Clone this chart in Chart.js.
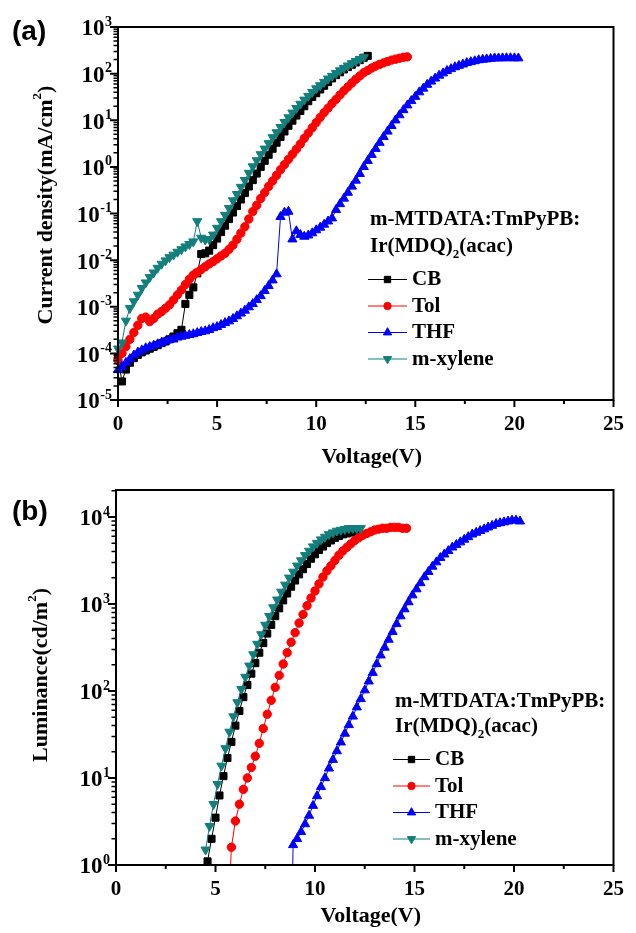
<!DOCTYPE html>
<html lang="en">
<head>
<meta charset="UTF-8">
<title>J-V and L-V of m-MTDATA:TmPyPB:Ir(MDQ)2(acac) devices</title>
<script src="https://cdn.jsdelivr.net/npm/chart.js@4.4.1/dist/chart.umd.min.js"></script>
<style>
  html, body { margin: 0; padding: 0; background: #fff; }
  body { width: 636px; height: 933px; position: relative; overflow: hidden; }
  canvas { position: absolute; left: 0; }
  #chartA { top: 0; }
  #chartB { top: 472px; }
</style>
</head>
<body>
<canvas id="chartA" width="636" height="472"></canvas>
<canvas id="chartB" width="636" height="461"></canvas>
<script>
// ---- panel (a): current density (mA/cm2) vs voltage, 0.2 V steps ----
const voltA = [
  0, 0.2, 0.4, 0.6, 0.8, 1, 1.2, 1.4, 1.6, 1.8,
  2, 2.2, 2.4, 2.6, 2.8, 3, 3.2, 3.4, 3.6, 3.8,
  4, 4.2, 4.4, 4.6, 4.8, 5, 5.2, 5.4, 5.6, 5.8,
  6, 6.2, 6.4, 6.6, 6.8, 7, 7.2, 7.4, 7.6, 7.8,
  8, 8.2, 8.4, 8.6, 8.8, 9, 9.2, 9.4, 9.6, 9.8,
  10, 10.2, 10.4, 10.6, 10.8, 11, 11.2, 11.4, 11.6, 11.8,
  12, 12.2, 12.4, 12.6, 12.8, 13, 13.2, 13.4, 13.6, 13.8,
  14, 14.2, 14.4, 14.6, 14.8, 15, 15.2, 15.4, 15.6, 15.8,
  16, 16.2, 16.4, 16.6, 16.8, 17, 17.2, 17.4, 17.6, 17.8,
  18, 18.2, 18.4, 18.6, 18.8, 19, 19.2, 19.4, 19.6, 19.8,
  20, 20.2
];
const jCb = [
  7.9e-5, 2.5e-5, 4.5e-5, 6.3e-5, 7.9e-5, 9.3e-5, 1.05e-4, 1.15e-4, 1.26e-4, 1.38e-4,
  1.5e-4, 1.66e-4, 1.8e-4, 2.0e-4, 2.3e-4, 2.7e-4, 3.2e-4, 1.15e-3, 1.8e-3, 2.6e-3,
  5.2e-3, 1.35e-2, 1.4e-2, 1.6e-2, 2.1e-2, 2.9e-2, 4.0e-2, 5.5e-2, 7.6e-2, 0.105,
  0.145, 0.2, 0.275, 0.38, 0.52, 0.72, 1.0, 1.35, 1.82, 2.45,
  3.3, 4.4, 5.75, 7.6, 9.8, 12.6, 15.8, 20, 25.7, 31.6,
  38, 45.7, 55, 66, 79, 93, 107, 123, 138, 155,
  174, 195, 219, 240
];
const jTol = [
  7.1e-5, 1.0e-4, 1.4e-4, 2.0e-4, 2.8e-4, 4.0e-4, 5.6e-4, 6.0e-4, 4.8e-4, 5.6e-4,
  6.9e-4, 7.9e-4, 9.3e-4, 1.1e-3, 1.4e-3, 1.8e-3, 2.3e-3, 3.0e-3, 3.9e-3, 4.8e-3,
  5.5e-3, 6.3e-3, 7.2e-3, 8.3e-3, 9.3e-3, 1.07e-2, 1.23e-2, 1.4e-2, 1.7e-2, 2.1e-2,
  2.8e-2, 3.8e-2, 5.2e-2, 7.6e-2, 0.11, 0.15, 0.21, 0.28, 0.38, 0.5,
  0.66, 0.87, 1.12, 1.45, 1.86, 2.4, 3.1, 4.1, 5.3, 6.9,
  8.9, 11.5, 14.6, 18.2, 22.8, 28, 35, 43, 52, 63,
  76, 89, 105, 117, 132, 145, 158, 170, 182, 195,
  204, 214, 224, 229
];
const jThf = [
  4.4e-5, 5.2e-5, 6.3e-5, 7.6e-5, 9.1e-5, 1.05e-4, 1.17e-4, 1.3e-4, 1.38e-4, 1.48e-4,
  1.58e-4, 1.7e-4, 1.82e-4, 1.95e-4, 2.0e-4, 2.2e-4, 2.3e-4, 2.4e-4, 2.5e-4, 2.6e-4,
  2.75e-4, 2.9e-4, 3.0e-4, 3.2e-4, 3.5e-4, 3.7e-4, 4.1e-4, 4.5e-4, 4.9e-4, 5.5e-4,
  6.3e-4, 7.2e-4, 8.3e-4, 9.8e-4, 1.15e-3, 1.4e-3, 1.7e-3, 2.2e-3, 2.8e-3, 3.7e-3,
  5.0e-3, 8.5e-2, 0.105, 0.11, 2.8e-2, 4.2e-2, 3.5e-2, 3.2e-2, 3.4e-2, 3.8e-2,
  4.4e-2, 5.0e-2, 5.8e-2, 6.8e-2, 7.9e-2, 0.12, 0.16, 0.21, 0.28, 0.38,
  0.51, 0.71, 1.0, 1.35, 1.82, 2.45, 3.3, 4.4, 5.75, 7.6,
  10, 12.9, 16.6, 21, 26, 32, 40, 48, 58, 68,
  79, 91, 102, 115, 126, 138, 148, 158, 170, 178,
  186, 195, 200, 204, 209, 214, 214, 215, 216, 216,
  215, 214
];
const jXyl = [
  1.26e-4, 1.7e-4, 5.0e-4, 9.3e-4, 1.3e-3, 1.8e-3, 2.5e-3, 3.3e-3, 4.3e-3, 5.4e-3,
  6.8e-3, 8.3e-3, 9.8e-3, 1.15e-2, 1.3e-2, 1.5e-2, 1.7e-2, 1.95e-2, 2.2e-2, 2.5e-2,
  6.8e-2, 3.0e-2, 2.75e-2, 2.8e-2, 3.5e-2, 4.9e-2, 6.8e-2, 9.3e-2, 0.13, 0.19,
  0.26, 0.37, 0.52, 0.74, 1.02, 1.38, 1.86, 2.45, 3.2, 4.3,
  5.5, 7.1, 9.1, 11.5, 14.5, 18.2, 22.4, 27.5, 33, 40,
  48, 56, 66, 78, 89, 102, 117, 132, 148, 166,
  186, 204, 224
];

// ---- panel (b): luminance (cd/m2) vs voltage ----
const voltCbB = [
  4.6, 4.8, 5, 5.2, 5.4, 5.6, 5.8, 6, 6.2, 6.4,
  6.6, 6.8, 7, 7.2, 7.4, 7.6, 7.8, 8, 8.2, 8.4,
  8.6, 8.8, 9, 9.2, 9.4, 9.6, 9.8, 10, 10.2, 10.4,
  10.6, 10.8, 11, 11.2, 11.4, 11.6, 11.8, 12, 12.2
];
const lumCb = [
  1.1, 2.0, 3.5, 6.3, 10.5, 17, 26, 40, 59, 85,
  117, 158, 209, 275, 355, 457, 575, 724, 891, 1100,
  1320, 1580, 1860, 2190, 2510, 2880, 3310, 3720, 4170, 4570,
  5010, 5370, 5750, 6030, 6310, 6460, 6610, 6760, 6760
];
const voltTolB = [
  5.7, 5.8, 6, 6.2, 6.4, 6.6, 6.8, 7, 7.2, 7.4, 7.6, 7.8,
  8, 8.2, 8.4, 8.6, 8.8, 9, 9.2, 9.4, 9.6, 9.8,
  10, 10.2, 10.4, 10.6, 10.8, 11, 11.2, 11.4, 11.6, 11.8,
  12, 12.2, 12.4, 12.6, 12.8, 13, 13.2, 13.4, 13.6, 13.8,
  14, 14.2, 14.4, 14.6
];
const lumTol = [
  0.5, 1.6, 3.2, 5.0, 7.4, 10, 13.2, 17.8, 25, 37, 54, 78,
  110, 151, 204, 275, 363, 468, 603, 759, 955, 1170,
  1410, 1700, 2040, 2400, 2750, 3160, 3630, 4070, 4470, 4900,
  5370, 5750, 6170, 6460, 6760, 7080, 7240, 7410, 7410, 7590,
  7590, 7590, 7410, 7410
];
const voltThfB = [
  8.85, 8.9, 9.1, 9.3, 9.5, 9.7, 9.9, 10.1, 10.3, 10.5, 10.7,
  10.9, 11.1, 11.3, 11.5, 11.7, 11.9, 12.1, 12.3, 12.5, 12.7,
  12.9, 13.1, 13.3, 13.5, 13.7, 13.9, 14.1, 14.3, 14.5, 14.7,
  14.9, 15.1, 15.3, 15.5, 15.7, 15.9, 16.1, 16.3, 16.5, 16.7,
  16.9, 17.1, 17.3, 17.5, 17.7, 17.9, 18.1, 18.3, 18.5, 18.7,
  18.9, 19.1, 19.3, 19.5, 19.7, 19.9, 20.1, 20.3
];
const lumThf = [
  0.4, 1.7, 2.0, 2.4, 2.95, 3.7, 4.8, 6.2, 7.9, 10, 12.9,
  16.2, 20.4, 25.7, 32.4, 40.7, 51, 65, 81, 102, 129,
  162, 204, 257, 316, 389, 479, 589, 724, 871, 1050,
  1260, 1480, 1740, 2040, 2340, 2690, 3020, 3390, 3720, 4070,
  4470, 4790, 5130, 5500, 5890, 6310, 6610, 6920, 7240, 7590,
  7940, 8320, 8510, 8710, 8910, 9120, 9120, 8910
];
const voltXylB = [
  4.5, 4.7, 4.9, 5.1, 5.3, 5.5, 5.7, 5.9, 6.1, 6.3,
  6.5, 6.7, 6.9, 7.1, 7.3, 7.5, 7.7, 7.9, 8.1, 8.3,
  8.5, 8.7, 8.9, 9.1, 9.3, 9.5, 9.7, 9.9, 10.1, 10.3,
  10.5, 10.7, 10.9, 11.1, 11.3, 11.5, 11.7, 11.9, 12.1, 12.3
];
const lumXyl = [
  1.5, 2.8, 5.0, 8.5, 13.8, 21.9, 33.9, 51, 74, 105,
  145, 195, 263, 347, 447, 575, 724, 912, 1120, 1380,
  1660, 2000, 2340, 2750, 3160, 3630, 4070, 4570, 5010, 5500,
  5890, 6310, 6610, 6920, 7080, 7240, 7410, 7410, 7410, 7410
];

// ---- series, axes and text ----
const seriesNames = ['CB', 'Tol', 'THF', 'm-xylene'];
const seriesColors = ['#000000', '#ff0000', '#0000ff', '#127f7c'];
const pointStyles = ['rect', 'circle', 'triangle', 'triangle'];
const pointRotations = [0, 0, 0, 180];
const pointRadii = [5, 4.2, 5.3, 5.3];

const xTicks = [0, 5, 10, 15, 20, 25];
const xMinorTicks = [2.5, 7.5, 12.5, 17.5, 22.5];
const yExpA = [-5, -4, -3, -2, -1, 0, 1, 2, 3];
const yExpB = [0, 1, 2, 3, 4];
const minorMult = [2, 3, 4, 5, 6, 7, 8, 9];

const xTitle = 'Voltage(V)';
const yTitleA = [['Current density(mA/cm', false], ['2', true], [')', false]];
const yTitleB = [['Luminance(cd/m', false], ['2', true], [')', false]];
const legendTitle1 = 'm-MTDATA:TmPyPB:';
const legendTitle2 = [['Ir(MDQ)', false], ['2', true], ['(acac)', false]];

const SERIF = '"Liberation Serif", "Times New Roman", serif';
const SANS = '"Liberation Sans", Arial, sans-serif';

// layout of each canvas (pixels inside that canvas)
const panels = {
  chartA: {
    tag: '(a)', tagY: 40,
    yMin: 1e-5, yMax: 1e3, yExp: yExpA, yTitle: yTitleA,
    padTop: 27, yAxisWidth: 118, xAxisHeight: 72,
    yTitleX: 46, yTitleY: 205, xTitleY: 463,
    leg: { titleX: 370, titleY: 225, line2Y: 251.5, x0: 368, x1: 407, textX: 412, rowY: 285, gap: 26.5 }
  },
  chartB: {
    tag: '(b)', tagY: 47.5,
    yMin: 1, yMax: 2.04e4, yExp: yExpB, yTitle: yTitleB,
    padTop: 18, yAxisWidth: 116, xAxisHeight: 68,
    yTitleX: 41, yTitleY: 203, xTitleY: 450,
    leg: { titleX: 395, titleY: 235, line2Y: 260, x0: 393, x1: 430, textX: 435, rowY: 293, gap: 26.5 }
  }
};

function drawMarker(ctx, style, rot, r, x, y) {
  ctx.beginPath();
  if (style === 'rect') {
    const s = r * Math.SQRT1_2;
    ctx.rect(x - s, y - s, 2 * s, 2 * s);
  } else if (style === 'circle') {
    ctx.arc(x, y, r, 0, Math.PI * 2);
  } else {
    const d = rot ? 1 : -1;
    ctx.moveTo(x, y + d * r);
    ctx.lineTo(x + r * 0.866, y - d * r * 0.5);
    ctx.lineTo(x - r * 0.866, y - d * r * 0.5);
    ctx.closePath();
  }
  ctx.fill();
  ctx.stroke();
}

// draws text pieces in a row, second flag = small raised/lowered piece
function drawPieces(ctx, pieces, x, y, size, smallSize, shift) {
  pieces.forEach(([t, small]) => {
    ctx.font = 'bold ' + (small ? smallSize : size) + 'px ' + SERIF;
    ctx.fillText(t, x, small ? y + shift : y);
    x += ctx.measureText(t).width;
  });
}

function piecesWidth(ctx, pieces, size, smallSize) {
  let w = 0;
  pieces.forEach(([t, small]) => {
    ctx.font = 'bold ' + (small ? smallSize : size) + 'px ' + SERIF;
    w += ctx.measureText(t).width;
  });
  return w;
}

const panelPlugin = {
  id: 'panel',
  afterDraw(chart) {
    const o = panels[chart.canvas.id];
    const { ctx, chartArea: a } = chart;
    const xs = chart.scales.x, ys = chart.scales.y;
    ctx.save();
    ctx.strokeStyle = '#000';
    ctx.fillStyle = '#000';

    // frame
    ctx.lineWidth = 2;
    ctx.strokeRect(a.left, a.top, a.right - a.left, a.bottom - a.top);

    // x ticks (outward)
    ctx.beginPath();
    xTicks.forEach(v => { const p = xs.getPixelForValue(v); ctx.moveTo(p, a.bottom); ctx.lineTo(p, a.bottom + 7); });
    xMinorTicks.forEach(v => { const p = xs.getPixelForValue(v); ctx.moveTo(p, a.bottom); ctx.lineTo(p, a.bottom + 4); });
    ctx.stroke();

    // y ticks (log, outward)
    ctx.beginPath();
    o.yExp.forEach(e => {
      const p = ys.getPixelForValue(Math.pow(10, e));
      ctx.moveTo(a.left, p); ctx.lineTo(a.left - 8, p);
    });
    ctx.stroke();
    ctx.lineWidth = 1.5;
    ctx.beginPath();
    o.yExp.forEach(e => {
      const base = Math.pow(10, e);
      minorMult.forEach(k => {
        const v = k * base;
        if (v > ys.max) return;
        const p = ys.getPixelForValue(v);
        ctx.moveTo(a.left, p); ctx.lineTo(a.left - 4.5, p);
      });
    });
    ctx.stroke();

    // y tick labels 10^n
    ctx.textBaseline = 'middle';
    o.yExp.forEach(e => {
      const p = ys.getPixelForValue(Math.pow(10, e));
      const exp = String(e);
      const right = a.left - 6;
      ctx.font = 'bold 14px ' + SERIF;
      const ew = ctx.measureText(exp).width;
      ctx.textAlign = 'left';
      ctx.fillText(exp, right - ew, p - 5);
      ctx.font = 'bold 23px ' + SERIF;
      ctx.textAlign = 'right';
      ctx.fillText('10', right - ew - 0.5, p + 2.5);
    });

    // x axis title
    ctx.textAlign = 'center';
    ctx.textBaseline = 'alphabetic';
    ctx.font = 'bold 22px ' + SERIF;
    ctx.fillText(xTitle, (a.left + a.right) / 2 + 6, o.xTitleY);

    // y axis title, rotated
    ctx.save();
    ctx.translate(o.yTitleX, o.yTitleY);
    ctx.rotate(-Math.PI / 2);
    ctx.textAlign = 'left';
    ctx.textBaseline = 'middle';
    const tw = piecesWidth(ctx, o.yTitle, 22, 13);
    drawPieces(ctx, o.yTitle, -tw / 2, 0, 22, 13, -8);
    ctx.restore();

    // panel tag
    ctx.textAlign = 'left';
    ctx.textBaseline = 'alphabetic';
    ctx.font = 'bold 28px ' + SANS;
    ctx.fillText(o.tag, 12, o.tagY);

    // legend
    const L = o.leg;
    ctx.font = 'bold 21px ' + SERIF;
    ctx.fillText(legendTitle1, L.titleX, L.titleY);
    drawPieces(ctx, legendTitle2, L.titleX, L.line2Y, 21, 13, 6);
    chart.data.datasets.forEach((ds, i) => {
      const by = L.rowY + i * L.gap;
      const ly = by - 5.5;
      ctx.strokeStyle = ds.borderColor;
      ctx.fillStyle = ds.borderColor;
      ctx.lineWidth = 1;
      ctx.beginPath();
      ctx.moveTo(L.x0, ly); ctx.lineTo(L.x1, ly);
      ctx.stroke();
      drawMarker(ctx, pointStyles[i], pointRotations[i], pointRadii[i] - 0.5, (L.x0 + L.x1) / 2, ly);
      ctx.fillStyle = '#000';
      ctx.font = 'bold 21px ' + SERIF;
      ctx.fillText(ds.label, L.textX, by);
    });
    ctx.restore();
  }
};

function makeDatasets(xsList, ysList) {
  return seriesNames.map((name, i) => ({
    label: name,
    data: ysList[i].map((v, k) => ({ x: xsList[i][k], y: v })),
    showLine: true,
    order: 3 - i,
    borderColor: seriesColors[i],
    backgroundColor: seriesColors[i],
    borderWidth: 1,
    pointBackgroundColor: seriesColors[i],
    pointBorderColor: seriesColors[i],
    pointBorderWidth: 1,
    pointStyle: pointStyles[i],
    pointRotation: pointRotations[i],
    pointRadius: pointRadii[i],
    clip: { left: 8, top: 8, right: 8, bottom: 0 }
  }));
}

function makeChart(id, datasets) {
  const o = panels[id];
  return new Chart(document.getElementById(id), {
    type: 'scatter',
    data: { datasets },
    options: {
      responsive: false,
      animation: false,
      events: [],
      devicePixelRatio: 1,
      layout: { padding: { left: 0, top: o.padTop, right: 14, bottom: 0 } },
      scales: {
        x: {
          type: 'linear', min: 0, max: 25,
          grid: { display: false, drawTicks: false },
          border: { display: false },
          afterBuildTicks: s => { s.ticks = xTicks.map(v => ({ value: v })); },
          afterFit: s => { s.height = o.xAxisHeight; },
          ticks: {
            color: '#000', padding: 12, maxRotation: 0, autoSkip: false,
            font: { family: SERIF, size: 21, weight: 'bold' }
          }
        },
        y: {
          type: 'logarithmic', min: o.yMin, max: o.yMax,
          grid: { display: false, drawTicks: false },
          border: { display: false },
          ticks: { display: false },
          afterFit: s => { s.width = o.yAxisWidth; }
        }
      },
      plugins: { legend: { display: false }, tooltip: { enabled: false } }
    },
    plugins: [panelPlugin]
  });
}

makeChart('chartA', makeDatasets(
  [voltA, voltA, voltA, voltA],
  [jCb, jTol, jThf, jXyl]
));
makeChart('chartB', makeDatasets(
  [voltCbB, voltTolB, voltThfB, voltXylB],
  [lumCb, lumTol, lumThf, lumXyl]
));
</script>
</body>
</html>
